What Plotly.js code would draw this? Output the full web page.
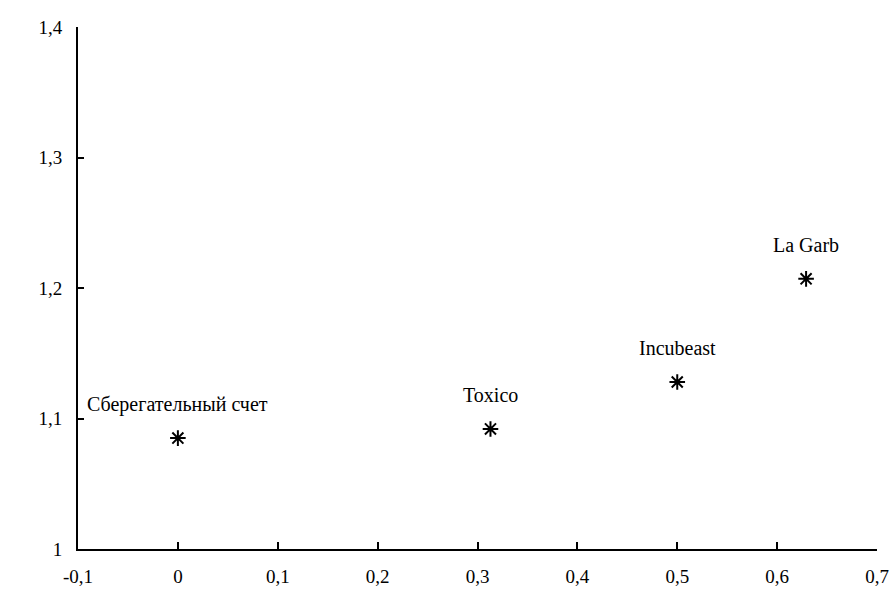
<!DOCTYPE html>
<html>
<head>
<meta charset="utf-8">
<script src="https://cdn.plot.ly/plotly-3.0.1.min.js"></script>
<style>
html,body{margin:0;padding:0;background:#fff;}
#chart{width:893px;height:591px;}
</style>
</head>
<body>
<div id="chart"></div>
<script>
const names = ["Сберегательный счет", "Toxico", "Incubeast", "La Garb"];
const risk = [0, 0.313, 0.5, 0.629];
const ret = [1.085, 1.092, 1.128, 1.207];
const xTicks = [-0.1, 0, 0.1, 0.2, 0.3, 0.4, 0.5, 0.6, 0.7];
const xTickText = ["-0,1", "0", "0,1", "0,2", "0,3", "0,4", "0,5", "0,6", "0,7"];
const yTicks = [1, 1.1, 1.2, 1.3, 1.4];
const yTickText = ["1", "1,1", "1,2", "1,3", "1,4"];

const trace = {
  x: risk, y: ret, mode: "markers", type: "scatter",
  marker: {symbol: "asterisk-open", size: 13, color: "#000", line: {color: "#000", width: 2}}
};

const annotations = names.map((n, i) => ({
  x: risk[i], y: ret[i], text: n, showarrow: false, yshift: 34,
  font: {family: "Liberation Serif", size: 20}
}));

const layout = {
  width: 893, height: 591,
  margin: {l: 78, r: 16, t: 27, b: 42},
  showlegend: false,
  font: {color: "#000"},
  xaxis: {
    range: [-0.1, 0.7], tickmode: "array", tickvals: xTicks, ticktext: xTickText,
    showgrid: false, zeroline: false, showline: true, linecolor: "#000", linewidth: 2,
    ticks: "inside", ticklen: 7, tickwidth: 2, tickcolor: "#000",
    tickfont: {family: "Liberation Serif", size: 19}, ticklabelstandoff: 9
  },
  yaxis: {
    range: [1, 1.4], tickmode: "array", tickvals: yTicks, ticktext: yTickText,
    showgrid: false, zeroline: false, showline: true, linecolor: "#000", linewidth: 2,
    ticks: "inside", ticklen: 6, tickwidth: 2, tickcolor: "#000",
    tickfont: {family: "Liberation Serif", size: 19}, ticklabelstandoff: 10
  },
  annotations: annotations
};

Plotly.newPlot("chart", [trace], layout, {staticPlot: true});
</script>
</body>
</html>
